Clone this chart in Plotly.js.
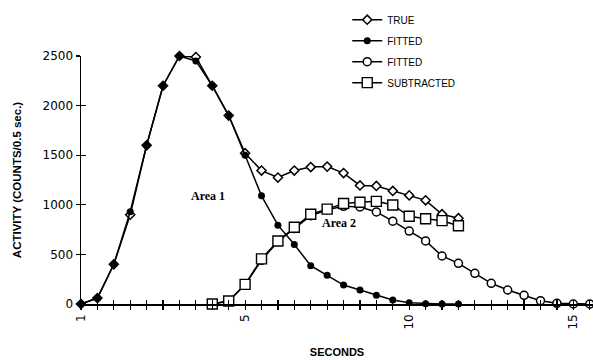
<!DOCTYPE html>
<html>
<head>
<meta charset="utf-8">
<script src="https://cdn.plot.ly/plotly-3.0.1.min.js"></script>
<style>html,body{margin:0;padding:0;background:#fff}#chart{width:593px;height:360px}</style>
</head>
<body>
<div id="chart"></div>
<script>
// Time (seconds) for each series
const tTrue = [0,0.5,1,1.5,2,2.5,3,3.5,4,4.5,5,5.5,6,6.5,7,7.5,8,8.5,9,9.5,10,10.5,11,11.5];
const trueVals = [0,60,400,900,1600,2200,2500,2490,2200,1900,1520,1345,1275,1345,1380,1385,1320,1195,1190,1140,1095,1045,905,865];

const tFitted1 = [0,0.5,1,1.5,2,2.5,3,3.5,4,4.5,5,5.5,6,6.5,7,7.5,8,8.5,9,9.5,10,10.5,11,11.5];
const fitted1Vals = [0,60,400,930,1600,2200,2500,2450,2200,1900,1500,1090,795,600,386,289,191,141,87,40,13,3,0,0];

const tFitted2 = [4,4.5,5,5.5,6,6.5,7,7.5,8,8.5,9,9.5,10,10.5,11,11.5,12,12.5,13,13.5,14,14.5,15,15.5];
const fitted2Vals = [0,30,195,440,630,760,890,950,985,978,928,835,735,636,484,410,309,209,141,88,33,7,0,0];

const tSub = [4,4.5,5,5.5,6,6.5,7,7.5,8,8.5,9,9.5,10,10.5,11,11.5];
const subVals = [0,30,198,455,635,773,905,956,1013,1025,1035,998,884,859,840,789];

const xTickVals = [0,5,10,15];
const xTickText = ["1","5","10","15"];
const yTickVals = [0,500,1000,1500,2000,2500];

const black = '#000';
const lineW = 1.5;

const traces = [
  {name:'TRUE', x:tTrue, y:trueVals, mode:'lines+markers', cliponaxis:false,
   line:{color:black,width:lineW},
   marker:{symbol:'diamond',size:7,color:'#fff',line:{color:black,width:1.5}},
   legendgroup:'a'},
  {name:'FITTED', x:tFitted1, y:fitted1Vals, mode:'lines+markers', cliponaxis:false,
   line:{color:black,width:lineW},
   marker:{symbol:'circle',size:7,color:black,line:{color:black,width:0}},
   legendgroup:'b'},
  {name:'FITTED', x:tFitted2, y:fitted2Vals, mode:'lines+markers', cliponaxis:false,
   line:{color:black,width:lineW},
   marker:{symbol:'circle',size:8,color:'#fff',line:{color:black,width:1.5}},
   legendgroup:'c'},
  {name:'SUBTRACTED', x:tSub, y:subVals, mode:'lines+markers', cliponaxis:false,
   line:{color:black,width:lineW},
   marker:{symbol:'square',size:10,color:'#fff',line:{color:black,width:1.4}},
   legendgroup:'d'},
  {x:[], y:[], xaxis:'x2', yaxis:'y2', showlegend:false, hoverinfo:'skip'}
];

const tickFont = {family:'DejaVu Sans, sans-serif', size:12, color:black};

const layout = {
  width:593, height:360,
  margin:{l:81, r:0, t:56, b:56, autoexpand:false},
  paper_bgcolor:'#fff', plot_bgcolor:'#fff',
  font:{family:'Liberation Sans, Arial, sans-serif', color:black},
  showlegend:true,
  legend:{x:0.52, y:1.205, xanchor:'left', yanchor:'top',
          font:{family:'Liberation Sans Narrow, Arial Narrow, sans-serif', size:10, color:black},
          traceorder:'grouped', tracegroupgap:2, bgcolor:'rgba(0,0,0,0)'},
  xaxis:{range:[0,15.6], showgrid:false, zeroline:false, showline:true, linecolor:black, linewidth:1.5,
         tickmode:'array', tickvals:xTickVals, ticktext:xTickText, tickangle:-90,
         ticks:'outside', ticklen:4, tickwidth:1.2, tickcolor:black, tickfont:tickFont,
         minor:{dtick:0.5, tick0:0, ticks:'outside', ticklen:4, tickwidth:1.2, tickcolor:black},
         title:{text:'SECONDS', font:{family:'Liberation Sans, Arial, sans-serif', size:11, color:black, weight:'bold'}, standoff:19}},
  yaxis:{range:[0,2500], showgrid:false, zeroline:false, showline:true, linecolor:black, linewidth:1.5,
         tickmode:'array', tickvals:yTickVals, ticks:'outside', ticklen:4, tickwidth:1.2, tickcolor:black,
         tickfont:tickFont,
         title:{text:'ACTIVITY (COUNTS/0.5 sec.)', font:{family:'Liberation Sans, Arial, sans-serif', size:11.5, color:black, weight:'bold'}, standoff:18}},
  xaxis2:{overlaying:'x', anchor:'y', side:'bottom', range:[0,15.6], showgrid:false, zeroline:false, showline:false,
          dtick:0.5, tick0:0, ticks:'inside', ticklen:4, tickwidth:1.2, tickcolor:black, showticklabels:false},
  yaxis2:{overlaying:'y', anchor:'x', side:'left', range:[0,2500], showgrid:false, zeroline:false, showline:false,
          tickmode:'array', tickvals:yTickVals, ticks:'inside', ticklen:5, tickwidth:1.2, tickcolor:black, showticklabels:false},
  annotations:[
    {text:'Area 1', x:3.87, y:1089, xref:'x', yref:'y', showarrow:false,
     font:{family:'Liberation Serif, Times New Roman, serif', size:12, color:black, weight:'bold'}},
    {text:'Area 2', x:7.87, y:817, xref:'x', yref:'y', showarrow:false,
     font:{family:'Liberation Serif, Times New Roman, serif', size:12, color:black, weight:'bold'}}
  ]
};

Plotly.newPlot('chart', traces, layout, {displayModeBar:false, staticPlot:true});
</script>
</body>
</html>
